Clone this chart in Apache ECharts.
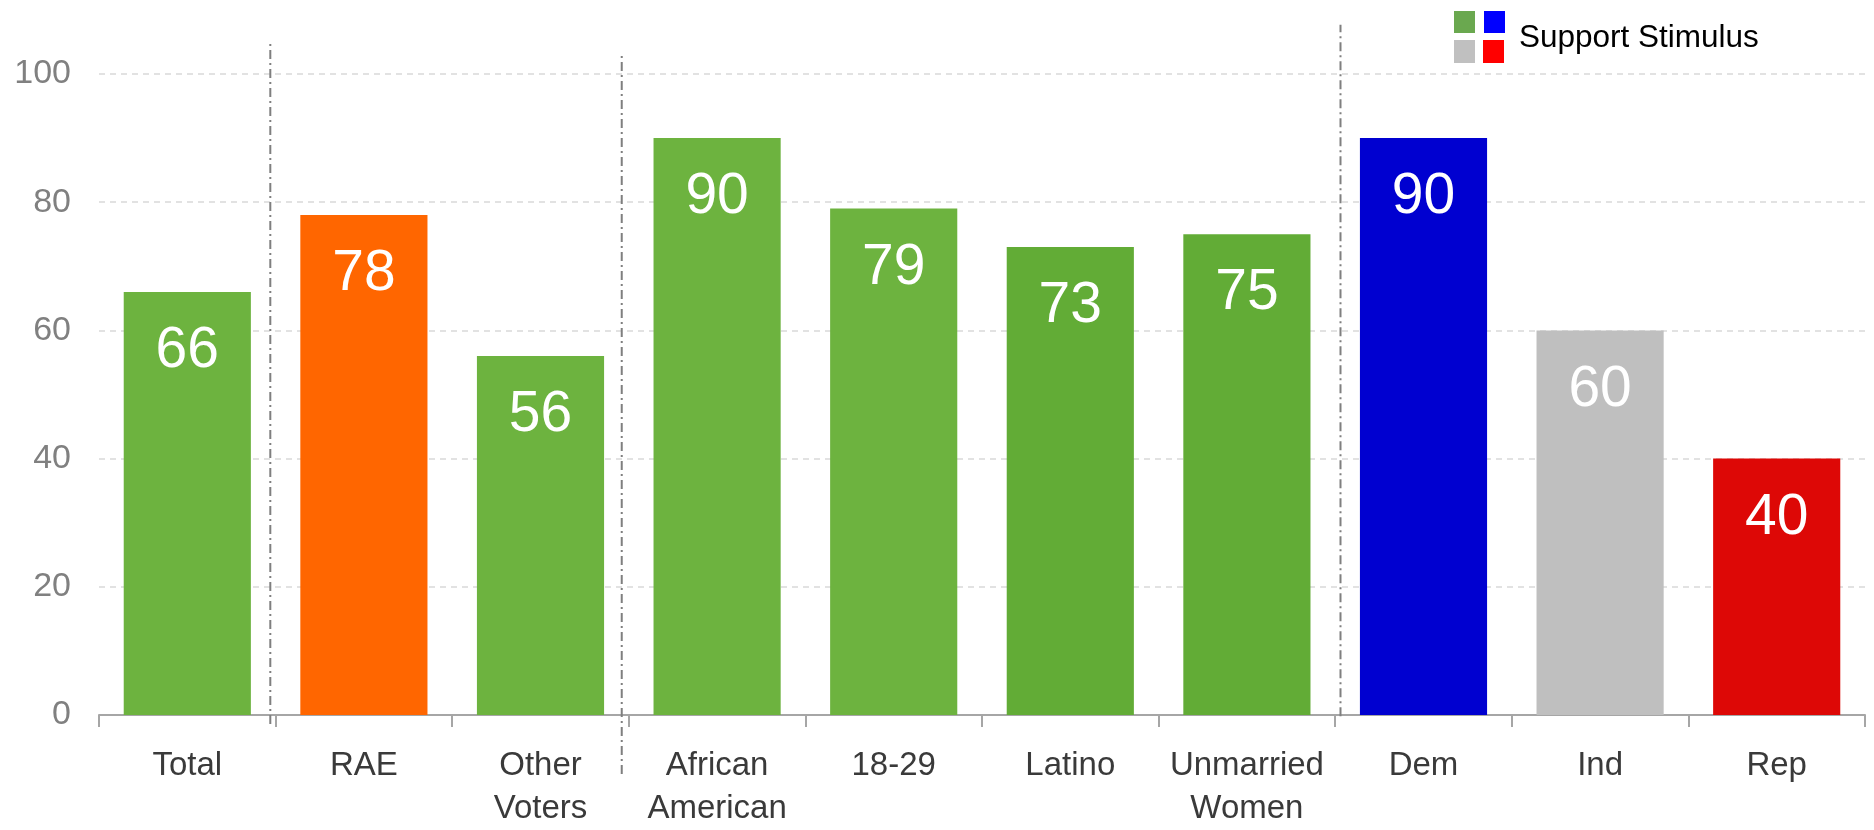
<!DOCTYPE html>
<html>
<head>
<meta charset="utf-8">
<script src="https://cdn.jsdelivr.net/npm/echarts@6/dist/echarts.min.js"></script>
<style>
html,body{margin:0;padding:0;background:#fff;}
#c{width:1874px;height:830px;}
</style>
</head>
<body>
<div id="c"></div>
<script>
var categories = ['Total', 'RAE', 'Other\nVoters', 'African\nAmerican', '18-29', 'Latino', 'Unmarried\nWomen', 'Dem', 'Ind', 'Rep'];
var values = [66, 78, 56, 90, 79, 73, 75, 90, 60, 40];
var barColors = ['#6DB33F', '#FF6600', '#6DB33F', '#6DB33F', '#6DB33F', '#62AC36', '#62AC36', '#0000D0', '#BFBFBF', '#DD0806'];
var yTicks = [0, 20, 40, 60, 80, 100];
// separators: [x position in category units, bottom value, top value]
var separators = [
  [0.97, -1.4, 104.9],
  [2.96, -9.2, 102.8],
  [7.03, -0.2, 107.7]
];
var legendText = 'Support Stimulus';
var legendColors = ['#6AA84F', '#0000FF', '#C0C0C0', '#FF0000'];

var chart = echarts.init(document.getElementById('c'));
var font = '"Liberation Sans", Arial, sans-serif';

var sepSeries = separators.map(function (s) {
  return {
    type: 'line',
    xAxisIndex: 1,
    yAxisIndex: 0,
    data: [[s[0], s[1]], [s[0], s[2]]],
    symbol: 'none',
    clip: false,
    silent: true,
    z: 1,
    lineStyle: { color: '#7F7F7F', width: 2, type: [9, 4, 2, 4] }
  };
});

chart.setOption({
  animation: false,
  grid: { left: 99, right: 9, top: 74, bottom: 107 },
  xAxis: [{
    type: 'category',
    data: categories,
    axisLine: { show: true, lineStyle: { color: '#A6A6A6', width: 2 } },
    axisTick: { show: true, alignWithLabel: false, interval: 0, length: 12, lineStyle: { color: '#A6A6A6', width: 2 } },
    axisLabel: { color: '#3A3A3A', fontSize: 33, fontFamily: font, lineHeight: 43, margin: 29, interval: 0 }
  }, {
    type: 'value',
    min: 0, max: 10,
    show: false
  }],
  yAxis: {
    type: 'value',
    min: yTicks[0],
    max: yTicks[yTicks.length - 1],
    interval: yTicks[1] - yTicks[0],
    axisLine: { show: false },
    axisTick: { show: false },
    axisLabel: { color: '#808080', fontSize: 34, fontFamily: font, margin: 28 },
    splitLine: { lineStyle: { color: '#D9D9D9', width: 1.5, type: [6, 5] } }
  },
  series: [{
    type: 'bar',
    data: values.map(function (v, i) { return { value: v, itemStyle: { color: barColors[i] } }; }),
    barWidth: '72%',
    z: 2,
    label: {
      show: true,
      position: 'insideTop',
      distance: 31,
      color: '#FFFFFF',
      fontSize: 57,
      fontFamily: font
    }
  }].concat(sepSeries),
  graphic: [
    { type: 'rect', shape: { x: 1454, y: 11, width: 21, height: 22 }, style: { fill: legendColors[0] } },
    { type: 'rect', shape: { x: 1484, y: 11, width: 21, height: 22 }, style: { fill: legendColors[1] } },
    { type: 'rect', shape: { x: 1454, y: 40, width: 21, height: 23 }, style: { fill: legendColors[2] } },
    { type: 'rect', shape: { x: 1483, y: 40, width: 21, height: 23 }, style: { fill: legendColors[3] } },
    { type: 'text', x: 1519, y: 38, style: { text: legendText, fill: '#000', font: '31.5px ' + font, verticalAlign: 'middle', align: 'left' } }
  ]
});
</script>
</body>
</html>
